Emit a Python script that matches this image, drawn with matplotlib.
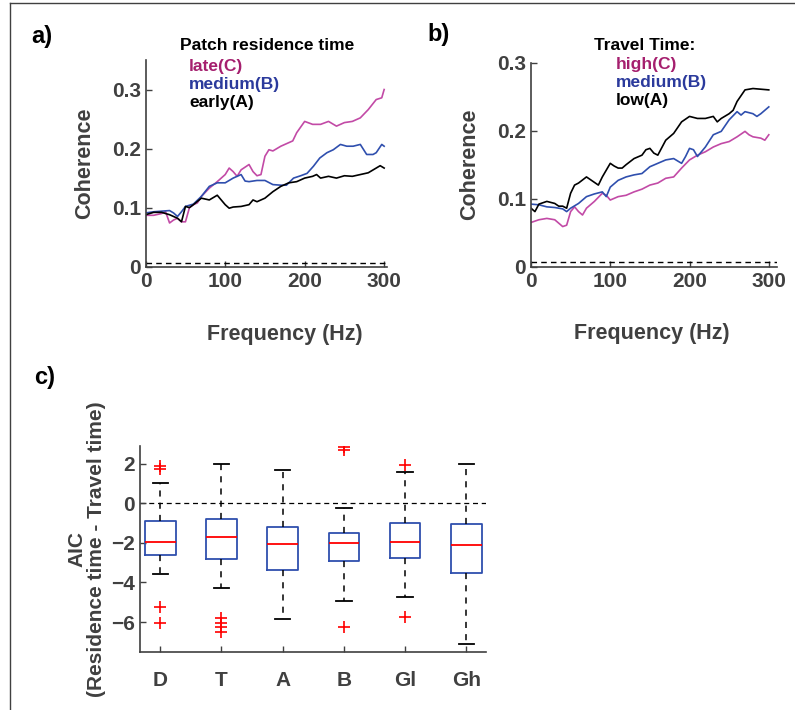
import matplotlib.pyplot as plt
from matplotlib.lines import Line2D

plt.rcParams['font.family'] = ['Liberation Sans', 'DejaVu Sans']
plt.rcParams['font.weight'] = 'bold'
plt.rcParams['axes.labelweight'] = 'bold'

# colours
PINK = '#c24aa6'
PINK_TXT = '#a51f6e'
BLUE = '#2f4fae'
BLUE_TXT = '#2b3a9c'
GREY = '#404040'

# ---- panel a: patch residence time ----
a_late_hz = [0, 10, 20, 25, 30, 35, 40, 45, 50, 55, 60, 65, 70, 80, 90, 100, 105, 110, 115, 120,
             130, 135, 140, 145, 150, 155, 160, 170, 180, 185, 190, 200, 210, 220, 230, 240, 250,
             260, 270, 280, 290, 297, 300]
a_late = [.087, .087, .090, .093, .074, .079, .082, .076, .076, .100, .105, .108, .119, .133, .144,
          .156, .167, .161, .153, .164, .173, .161, .154, .156, .187, .198, .196, .204, .210, .213,
          .227, .246, .241, .241, .246, .238, .244, .246, .252, .266, .283, .286, .300]

a_med_hz = [0, 10, 20, 30, 35, 40, 45, 50, 60, 70, 80, 90, 100, 110, 120, 125, 130, 140, 150, 160,
            170, 177, 186, 195, 203, 211, 219, 228, 236, 245, 253, 261, 270, 278, 286, 290, 297, 300]
a_med = [.091, .093, .094, .095, .091, .085, .093, .102, .106, .119, .136, .142, .142, .150, .156,
         .145, .144, .146, .146, .139, .138, .138, .150, .154, .158, .170, .184, .193, .198, .207,
         .204, .204, .207, .190, .190, .193, .207, .204]

a_early_hz = [0, 10, 20, 30, 40, 45, 50, 55, 60, 70, 80, 90, 95, 100, 105, 110, 120, 130, 135, 140,
              150, 160, 170, 180, 190, 200, 210, 215, 220, 230, 240, 250, 260, 270, 280, 290, 295, 300]
a_early = [.088, .092, .092, .088, .082, .076, .102, .100, .105, .116, .113, .121, .113, .105, .099,
           .101, .102, .105, .113, .110, .116, .127, .136, .142, .144, .150, .153, .156, .150, .153,
           .150, .154, .153, .156, .159, .167, .171, .167]

# ---- panel b: travel time ----
b_low_hz = [0, 5, 10, 20, 30, 35, 40, 45, 50, 55, 60, 70, 75, 80, 85, 90, 100, 105, 110, 115, 120,
            130, 140, 145, 150, 155, 160, 170, 180, 190, 200, 210, 220, 230, 235, 240, 250, 255, 260,
            270, 280, 290, 300]
b_low = [.086, .081, .092, .096, .093, .089, .089, .086, .108, .120, .123, .132, .128, .124, .120,
         .132, .152, .148, .145, .145, .150, .159, .164, .172, .174, .167, .164, .186, .196, .213,
         .221, .218, .218, .221, .213, .218, .225, .230, .243, .260, .262, .261, .260]

b_med_hz = [0, 10, 20, 30, 40, 45, 50, 60, 70, 80, 90, 95, 100, 110, 120, 130, 140, 150, 160, 170,
            180, 190, 195, 200, 205, 210, 220, 230, 240, 250, 260, 265, 270, 280, 285, 290, 300]
b_med = [.092, .091, .088, .087, .085, .081, .086, .093, .103, .107, .110, .103, .117, .127, .132,
         .135, .137, .147, .152, .157, .159, .152, .162, .174, .172, .162, .176, .194, .199, .216,
         .228, .223, .228, .225, .221, .225, .235]

b_high_hz = [0, 10, 20, 30, 40, 45, 50, 55, 60, 65, 70, 80, 90, 95, 100, 110, 120, 130, 140, 150,
             160, 170, 180, 190, 200, 210, 220, 230, 240, 250, 260, 270, 275, 280, 290, 295, 300]
b_high = [.065, .069, .071, .069, .059, .061, .081, .088, .081, .076, .086, .096, .108, .105, .098,
          .103, .105, .110, .114, .120, .123, .130, .132, .145, .157, .164, .169, .176, .181, .184,
          .191, .199, .194, .191, .189, .186, .194]

chance_level = 0.007

# ---- panel c: AIC differences ----
c_labels = ['D', 'T', 'A', 'B', 'Gl', 'Gh']
c_whislo = [-3.56, -4.27, -5.87, -4.95, -4.75, -7.10]
c_q1 = [-2.61, -2.81, -3.38, -2.91, -2.78, -3.51]
c_med = [-1.96, -1.71, -2.06, -2.01, -1.97, -2.09]
c_q3 = [-0.90, -0.79, -1.20, -1.52, -0.99, -1.04]
c_whishi = [1.05, 1.97, 1.69, -0.25, 1.59, 1.97]
c_fliers = [[1.89, 1.75, -5.23, -6.07],
            [-5.81, -6.03, -6.24, -6.49],
            [],
            [2.85, 2.68, -6.23],
            [1.94, -5.76],
            []]

fig = plt.figure(figsize=(7.95, 7.1), dpi=100)


def style(ax, size=15):
    for s in ['top', 'right']:
        ax.spines[s].set_visible(False)
    for s in ['left', 'bottom']:
        ax.spines[s].set_color(GREY)
        ax.spines[s].set_linewidth(1.2)
    ax.tick_params(direction='in', length=4, width=1, color=GREY, labelcolor=GREY, labelsize=size)
    for lab in ax.get_xticklabels() + ax.get_yticklabels():
        lab.set_fontweight('bold')


# panel a
ax1 = fig.add_axes([0.1833, 0.6244, 0.3039, 0.2911])
ax1.plot(a_late_hz, a_late, color=PINK, lw=1.2)
ax1.plot(a_med_hz, a_med, color=BLUE, lw=1.2)
ax1.plot(a_early_hz, a_early, color='black', lw=1.2)
ax1.axhline(chance_level, color='black', ls=(0, (4, 3)), lw=1)
ax1.set_xlim(0, 304)
ax1.set_ylim(0, 0.35)
ax1.set_xticks([0, 100, 200, 300])
ax1.set_yticks([0, 0.1, 0.2, 0.3])
ax1.set_yticklabels(['0', '0.1', '0.2', '0.3'])
style(ax1)
ax1.set_xlabel('Frequency (Hz)', fontsize=15.5, color=GREY)
ax1.xaxis.set_label_coords(0.577, -0.275)
ax1.set_ylabel('Coherence', fontsize=15.5, color=GREY, labelpad=12)

# panel b
ax2 = fig.add_axes([0.6679, 0.6244, 0.3091, 0.2873])
ax2.plot(b_high_hz, b_high, color=PINK, lw=1.2)
ax2.plot(b_med_hz, b_med, color=BLUE, lw=1.2)
ax2.plot(b_low_hz, b_low, color='black', lw=1.2)
ax2.axhline(chance_level, color='black', ls=(0, (4, 3)), lw=1)
ax2.set_xlim(0, 310)
ax2.set_ylim(0, 0.3)
ax2.set_xticks([0, 100, 200, 300])
ax2.set_yticks([0, 0.1, 0.2, 0.3])
ax2.set_yticklabels(['0', '0.1', '0.2', '0.3'])
style(ax2)
ax2.set_xlabel('Frequency (Hz)', fontsize=15.5, color=GREY)
ax2.xaxis.set_label_coords(0.49, -0.275)
ax2.set_ylabel('Coherence', fontsize=15.5, color=GREY, labelpad=12)

# panel c
ax3 = fig.add_axes([0.1761, 0.0821, 0.4352, 0.2897])
stats = []
for i in range(len(c_labels)):
    stats.append({'label': c_labels[i], 'whislo': c_whislo[i], 'q1': c_q1[i], 'med': c_med[i],
                  'q3': c_q3[i], 'whishi': c_whishi[i], 'fliers': c_fliers[i]})
pos = list(range(1, len(c_labels) + 1))
ax3.axhline(0, color='black', ls=(0, (4, 3)), lw=0.9, zorder=1)
ax3.bxp(stats, positions=pos, widths=0.5,
        boxprops=dict(color=BLUE, lw=1.3),
        medianprops=dict(color='red', lw=1.3),
        whiskerprops=dict(color='black', ls=(0, (4, 4)), lw=1.1),
        capprops=dict(color='black', lw=1.3),
        flierprops=dict(marker='+', markeredgecolor='red', markersize=9, markeredgewidth=1.2, ls='none'))
ax3.set_xlim(0.67, 6.32)
ax3.set_ylim(-7.5, 2.9)
ax3.set_yticks([-6, -4, -2, 0, 2])
ax3.set_xticks(pos)
ax3.set_xticklabels(c_labels)
style(ax3, 15)
ax3.tick_params(axis='x', pad=14)
ax3.set_ylabel('AIC\n(Residence time - Travel time)', fontsize=15, color=GREY, labelpad=4,
               linespacing=1.0)

# legend-like texts
W, H = 795, 710


def ftext(x, y, s, **kw):
    fig.text(x / W, 1 - y / H, s, fontweight='bold', **kw)


ftext(267, 45, 'Patch residence time', fontsize=12.5, color='black', ha='center', va='center')
ftext(189, 67, 'late(C)', fontsize=12.5, color=PINK_TXT, va='center')
ftext(189, 85, 'medium(B)', fontsize=12.5, color=BLUE_TXT, va='center')
ftext(189, 102, 'early(A)', fontsize=12.5, color='black', va='center')

ftext(645, 45, 'Travel Time:', fontsize=12.5, color='black', ha='center', va='center')
ftext(616, 64, 'high(C)', fontsize=12.5, color=PINK_TXT, va='center')
ftext(616, 83, 'medium(B)', fontsize=12.5, color=BLUE_TXT, va='center')
ftext(616, 101, 'low(A)', fontsize=12.5, color='black', va='center')

ftext(31, 37, 'a)', fontsize=17, color='black', va='center')
ftext(427, 34, 'b)', fontsize=17, color='black', va='center')
ftext(34, 378, 'c)', fontsize=17, color='black', va='center')

# frame lines
fig.add_artist(Line2D([10 / W, 10 / W], [0, 1 - 3 / H], transform=fig.transFigure, color=GREY, lw=1))
fig.add_artist(Line2D([10 / W, 1], [1 - 3 / H, 1 - 3 / H], transform=fig.transFigure, color=GREY, lw=1))

fig.savefig('out.png', dpi=100)
